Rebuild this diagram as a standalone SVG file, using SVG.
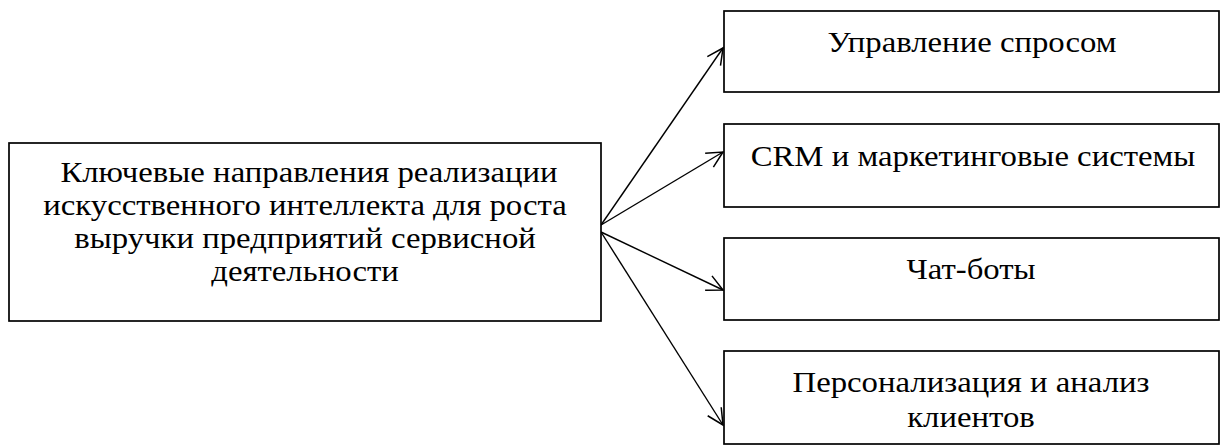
<svg xmlns="http://www.w3.org/2000/svg" width="1221" height="445" viewBox="0 0 1221 445">
<style>
.box{fill:#fff;stroke:#000;stroke-width:1.7}
.t{font-family:'Liberation Serif','Times New Roman',Times,serif;font-size:29px;fill:#000;text-anchor:middle}
.c{fill:none;stroke:#000;stroke-width:1.4}
</style>
<defs>
<marker id="ah" markerWidth="22" markerHeight="22" refX="17" refY="9" orient="auto" markerUnits="userSpaceOnUse">
<path d="M1,1 L17,9 L1,17" fill="none" stroke="#000" stroke-width="1.5"/>
</marker>
</defs>
<rect width="1221" height="445" fill="#fff"/>
<g id="connectors">
<line class="c" x1="601" y1="225" x2="723" y2="48" marker-end="url(#ah)"/>
<line class="c" x1="601" y1="225" x2="723" y2="152" marker-end="url(#ah)"/>
<line class="c" x1="601" y1="232" x2="723" y2="290" marker-end="url(#ah)"/>
<line class="c" x1="601" y1="232" x2="723" y2="425" marker-end="url(#ah)"/>
</g>
<g id="main">
<rect class="box" x="9" y="143" width="592" height="178"/>
<text class="t" transform="translate(309,182) scale(1.13,1)">Ключевые направления реализации</text>
<text class="t" transform="translate(305,215) scale(1.13,1)">искусственного интеллекта для роста</text>
<text class="t" transform="translate(305,248) scale(1.13,1)">выручки предприятий сервисной</text>
<text class="t" transform="translate(305,281) scale(1.13,1)">деятельности</text>
</g>
<g id="n1">
<rect class="box" x="724" y="11" width="495" height="81"/>
<text class="t" transform="translate(972,52) scale(1.13,1)">Управление спросом</text>
</g>
<g id="n2">
<rect class="box" x="724" y="124" width="495" height="83"/>
<text class="t" transform="translate(973,166) scale(1.13,1)">CRM и маркетинговые системы</text>
</g>
<g id="n3">
<rect class="box" x="724" y="238" width="495" height="82"/>
<text class="t" transform="translate(971,279) scale(1.13,1)">Чат-боты</text>
</g>
<g id="n4">
<rect class="box" x="724" y="351" width="495" height="93"/>
<text class="t" transform="translate(971,392) scale(1.13,1)">Персонализация и анализ</text>
<text class="t" transform="translate(971,427) scale(1.13,1)">клиентов</text>
</g>
</svg>
